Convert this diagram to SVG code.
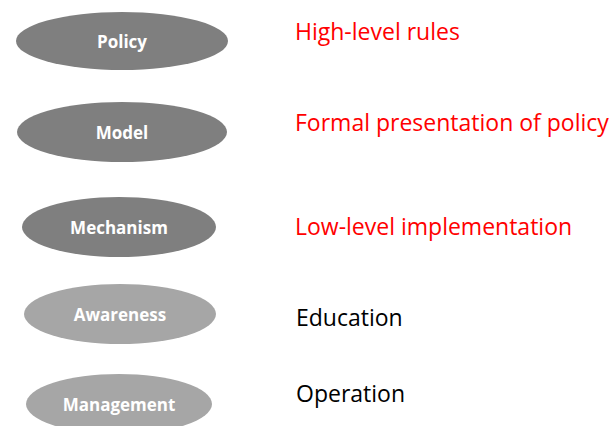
<svg xmlns="http://www.w3.org/2000/svg" width="615" height="426" viewBox="0 0 615 426">
<style>
.dark{fill:#7f7f7f}
.light{fill:#a6a6a6}
.nl{font-family:"Open Sans","Liberation Sans",sans-serif;font-weight:bold;font-size:17px;fill:#ffffff;text-anchor:middle}
.red{font-family:"Open Sans","Liberation Sans",sans-serif;font-size:23px;fill:#ff0000}
.blk{font-family:"Open Sans","Liberation Sans",sans-serif;font-size:23px;fill:#000000}
</style>
<rect width="615" height="426" fill="#ffffff"/>
<g id="connectors"></g>
<g id="policy"><ellipse class="dark" cx="122" cy="41" rx="106" ry="29"/><text class="nl" x="122" y="48">Policy</text></g>
<g id="model"><ellipse class="dark" cx="122" cy="132" rx="105" ry="30"/><text class="nl" x="122" y="139">Model</text></g>
<g id="mechanism"><ellipse class="dark" cx="119" cy="227" rx="97" ry="30"/><text class="nl" x="119" y="234">Mechanism</text></g>
<g id="awareness"><ellipse class="light" cx="120" cy="314" rx="96" ry="30"/><text class="nl" x="120" y="321">Awareness</text></g>
<g id="management"><ellipse class="light" cx="119" cy="404" rx="93" ry="30"/><text class="nl" x="119" y="411">Management</text></g>
<g id="labels">
<text class="red" x="295" y="40">High-level rules</text>
<text class="red" x="295" y="131">Formal presentation of policy</text>
<text class="red" x="295" y="235">Low-level implementation</text>
<text class="blk" x="296" y="326">Education</text>
<text class="blk" x="296" y="402">Operation</text>
</g>
</svg>
